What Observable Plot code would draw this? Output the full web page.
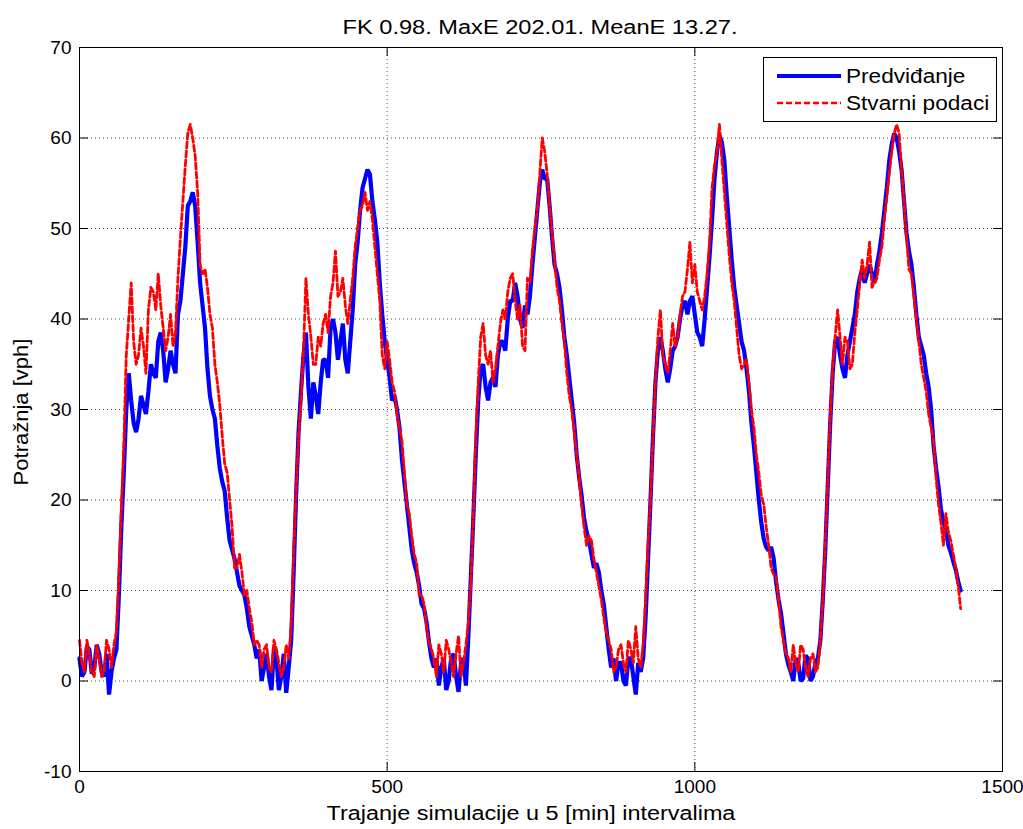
<!DOCTYPE html>
<html><head><meta charset="utf-8">
<script src="https://cdn.jsdelivr.net/npm/d3@7"></script>
<script src="https://cdn.jsdelivr.net/npm/@observablehq/plot@0.6"></script>
<style>
body{margin:0;background:#fff;font-family:"Liberation Sans",Arial,sans-serif;}
#wrap{position:relative;width:1023px;height:829px;}
.lab{position:absolute;white-space:nowrap;font-size:20px;color:#000;line-height:1;}
#legend{position:absolute;left:763px;top:57px;width:234px;height:65px;border:1px solid #000;background:#fff;box-sizing:border-box;font-size:20px;color:#000;}
#legend .row{position:absolute;left:0;height:24px;display:flex;align-items:center;}
#legend svg{margin-left:13px;margin-right:5px;}
#legend span{display:inline-block;transform:scaleX(1.13);transform-origin:left center;}
</style></head><body><div id="wrap"></div>
<script>
const t = d3.range(0, 1436, 4);
const predvidanje = [
 2.5, 0.5, 1, 3.8, 3.5, 0.8, 1.5, 4, 3, 1, 0.5, 3, -1.5, 1, 2.5, 3.5,
 9.5, 17, 23, 30, 34, 31, 28.5, 27.5, 29, 31.5, 30.5, 29.5, 32, 35, 34, 33.5,
 37.5, 38.5, 36.5, 33, 34.5, 36.5, 35, 34, 40.5, 42, 45, 48, 52.5, 53, 54, 52.5,
 48.5, 44, 41.5, 39, 34.5, 31.5, 30, 29, 26, 23.5, 22, 21, 18, 15.5, 14.5, 13.5,
 12, 10.5, 10, 9.5, 8, 6, 5, 4, 2.5, 3.5, 0, 1.5, 3, 0.5, -1, 3.5,
 2.5, -1, 0.5, 3, -1.3, 1.5, 4.5, 12, 20.5, 27.5, 32, 36, 38.5, 32.5, 29, 33,
 31.5, 29.5, 33, 35.5, 35.5, 33.5, 39, 40, 38.5, 35.5, 37.5, 39.5, 35.5, 34, 37.5, 41,
 46, 48.5, 52, 54.5, 55.5, 56.5, 56, 53, 51, 48.5, 44, 40.5, 37.5, 35.5, 33.5, 31,
 31.5, 30, 28, 24.5, 22, 19.5, 17, 14.5, 13, 12, 10.5, 8.5, 8, 6.5, 4.3, 2.5,
 1.5, 2.5, -0.5, 1.5, 2.5, -1, 0, 2.5, 3, 0.5, -1.2, 2, 2.5, -0.5, 5, 11.5,
 18, 25, 31, 34.5, 35, 32.5, 31, 33, 33.5, 32.5, 36, 37.5, 37.5, 36.5, 40, 42,
 42, 44, 42.5, 40, 39, 41.5, 40.5, 42.5, 46, 49, 52, 55, 56.5, 55.5, 55.5, 52.5,
 49, 46, 45, 43.5, 41, 38, 36, 33.5, 31, 28.5, 25, 22.5, 20.5, 18, 16.5, 15.5,
 14, 12.5, 13, 12, 10, 8.5, 6, 3.5, 1.5, 2.5, 0, 2, 2, 0, -0.5, 2.5,
 2.5, 0.5, -1.5, 2, 1, 2.5, 7, 13.5, 20, 27, 33, 36.5, 38, 36.5, 34.5, 33,
 34.5, 36.5, 37, 38, 40, 41.5, 42, 40.5, 42, 42.5, 40.5, 38.5, 38, 37, 40, 43.5,
 47, 51, 55.5, 58.5, 60.3, 59.5, 57.5, 53.5, 50, 46.5, 43.5, 41.5, 39.5, 37.5, 36.5, 34.5,
 32, 28.5, 26, 23, 20, 17.5, 15.7, 14.8, 14.4, 14.8, 13.6, 11, 9, 7.5, 5.3, 3,
 1.8, 1, 0, 2.5, 2, 0, 0.3, 2.8, 2.5, 0, 0.5, 2, 2.5, 4.5, 9, 14.5,
 21.5, 28.5, 34, 37.5, 38, 36, 34.5, 33.5, 36, 37.5, 39, 40.5, 43, 44.5, 45.5, 44,
 45, 46, 45, 44, 46, 47.5, 49.5, 52, 54.5, 57.5, 59.3, 60.5, 60, 58.5, 56.5, 53,
 49.5, 47.5, 46, 43.5, 40.5, 38, 37, 36, 34, 32.5, 30, 26, 23.5, 21.5, 19, 17.5,
 16.7, 15, 14.2, 13.2, 12.3, 11, 10
];
const stvarniPodaci = [
 4.5, 2, 1, 4.5, 3, 1, 0.5, 4, 2.5, 0.5, 1, 4.5, 3.5, 1.5, 4, 5.5,
 11.5, 19, 26, 36, 40, 44, 37.5, 35, 36, 39, 37, 34, 41, 43.5, 43, 41,
 45, 41.5, 39, 36.5, 38, 40.5, 37, 38.5, 44.5, 49, 53, 57, 60.5, 61.5, 60, 58,
 54, 46, 45, 45.5, 43.5, 40.5, 39, 35, 33, 30.5, 27, 24, 23, 20, 17, 12.5,
 12.5, 14, 12, 9.5, 10, 8, 6.5, 4, 4.5, 4, 1.5, 3.5, 4, 1.5, 1, 4.5,
 3.5, 2, 0.5, 1.5, 4, 2.5, 6, 14, 21, 27, 31, 36.5, 44.5, 40.5, 38, 35,
 35, 38, 37, 39.5, 40.5, 38.5, 42.5, 44, 47.5, 42.5, 43, 44.5, 41.5, 39.5, 42, 44.5,
 48, 50, 52, 52.5, 54, 52, 53, 51, 48, 45, 42, 36, 34.5, 37.5, 35.5, 33,
 32, 29.5, 28, 26.5, 23, 19.5, 18.5, 16, 14, 13, 9.5, 9.5, 8.5, 6, 4.3, 3.5,
 2.5, 0.5, 4, 3, 1, 4.5, 3.5, 2, 0.5, 3, 5, 0.5, 2, 4, 6.5, 11,
 18, 27, 33, 38, 39.5, 36, 35, 36.5, 33, 34.5, 37, 39.5, 41, 40, 43, 44.5,
 45, 42, 40, 41.5, 37, 36.5, 44.5, 44, 47.5, 50, 52, 56, 60, 58.5, 56, 52.5,
 49.5, 46.5, 43.5, 42, 39.5, 37.5, 34, 31.5, 30, 27.5, 25, 22.5, 19.5, 17, 15, 16,
 15.5, 13.5, 12, 10.5, 9, 7, 5.5, 4.5, 3.5, 1, 1.5, 3.5, 4, 2, 1, 4.5,
 3.5, 2, 6, 2.5, 1.5, 4, 9, 15, 20, 27, 33, 38, 41, 36, 35, 34,
 36.5, 39.5, 37, 38, 40.5, 42.5, 43, 45.5, 48.5, 44, 46, 43, 42, 41, 42.5, 45,
 48.5, 54.5, 57, 58.5, 61.5, 57.5, 54, 50.5, 47, 44, 42, 39, 36, 34.5, 35, 35.5,
 33, 30, 28, 25, 23, 20.5, 19.5, 17, 15, 12.5, 11.8, 11.5, 9, 6, 4.5, 3,
 2.5, 1, 4, 2, 1, 4, 3.5, 1.5, 0.5, 2.5, 3, 1, 1.5, 4.5, 9, 15,
 22, 29, 34.5, 38, 41, 38, 35, 38, 37.5, 34.5, 35, 38.5, 41, 44, 46.5, 44.5,
 46, 48.5, 43.5, 44, 44.5, 46.5, 48, 51, 53.5, 56, 58.5, 60.5, 61.5, 60.5, 56.5, 53,
 49, 45.5, 45, 42.5, 40, 37.5, 35, 33.5, 32, 29.5, 28, 26.5, 22.5, 19.5, 17.5, 15,
 18.5, 16.5, 15.5, 14, 12.5, 10.5, 8
];
const xTicks = [0, 500, 1000, 1500];
const yTicks = [-10, 0, 10, 20, 30, 40, 50, 60, 70];
const titleText = "FK 0.98. MaxE 202.01. MeanE 13.27.";
const xLabel = "Trajanje simulacije u 5 [min] intervalima";
const yLabel = "Potražnja [vph]";
const seriesNames = ["Predviđanje", "Stvarni podaci"];
const colors = ["#0000ff", "#ff0000"];

const W = 1023, H = 829, mL = 79, mR = 21, mT = 47, mB = 58;
const frameW = W - mL - mR, frameH = H - mT - mB, tick = 9;
const rows = t.map((x, i) => ({x, p: predvidanje[i], s: stvarniPodaci[i]}));
const font = "Liberation Sans, Arial, sans-serif";

const chart = Plot.plot({
  width: W, height: H,
  marginLeft: mL, marginRight: mR, marginTop: mT, marginBottom: mB,
  style: {fontFamily: font, fontSize: "19px", background: "#fff", color: "#000", overflow: "visible"},
  x: {domain: [0, 1500], label: null},
  y: {domain: [-10, 70], label: null},
  marks: [
    Plot.gridX(xTicks.slice(1, -1), {stroke: "#000", strokeOpacity: 0.7, strokeDasharray: "1,3"}),
    Plot.gridY(yTicks.slice(1, -1), {stroke: "#000", strokeOpacity: 0.7, strokeDasharray: "1,3"}),
    Plot.line(rows, {x: "x", y: "p", stroke: colors[0], strokeWidth: 4.2, strokeLinejoin: "miter"}),
    Plot.line(rows, {x: "x", y: "s", stroke: colors[1], strokeWidth: 2.8, strokeDasharray: "6,3"}),
    Plot.frame({stroke: "#000", strokeWidth: 1}),
    Plot.tickX(xTicks, {x: d => d, insetTop: frameH - tick, stroke: "#000"}),
    Plot.tickX(xTicks, {x: d => d, insetBottom: frameH - tick, stroke: "#000"}),
    Plot.tickY(yTicks, {y: d => d, insetRight: frameW - tick, stroke: "#000"}),
    Plot.tickY(yTicks, {y: d => d, insetLeft: frameW - tick, stroke: "#000"}),
    Plot.axisX(xTicks, {tickSize: 0, tickPadding: 8, label: null, tickFormat: d => String(d), fontSize: 19}),
    Plot.axisY(yTicks, {tickSize: 0, tickPadding: 8, label: null, tickFormat: d => String(d), fontSize: 19})
  ]
});
const wrap = document.getElementById("wrap");
wrap.appendChild(chart);

function addLabel(text, left, top, transform) {
  const d = document.createElement("div");
  d.className = "lab";
  d.textContent = text;
  d.style.left = left + "px";
  d.style.top = top + "px";
  d.style.transform = transform;
  wrap.appendChild(d);
}
addLabel(titleText, 540, 27, "translate(-50%,-50%) scaleX(1.18)");
addLabel(xLabel, 531, 813, "translate(-50%,-50%) scaleX(1.17)");
addLabel(yLabel, 21, 412, "translate(-50%,-50%) rotate(-90deg) scaleX(1.1)");

const legend = document.createElement("div");
legend.id = "legend";
seriesNames.forEach((name, i) => {
  const row = document.createElement("div");
  row.className = "row";
  row.style.top = (i === 0 ? 6 : 33) + "px";
  const dash = i === 0 ? "" : ' stroke-dasharray="6,3"';
  row.innerHTML = `<svg width="64" height="10"><line x1="0" y1="5" x2="64" y2="5" stroke="${colors[i]}" stroke-width="${i === 0 ? 4 : 2.6}"${dash}/></svg><span>${name}</span>`;
  legend.appendChild(row);
});
wrap.appendChild(legend);
</script></body></html>
